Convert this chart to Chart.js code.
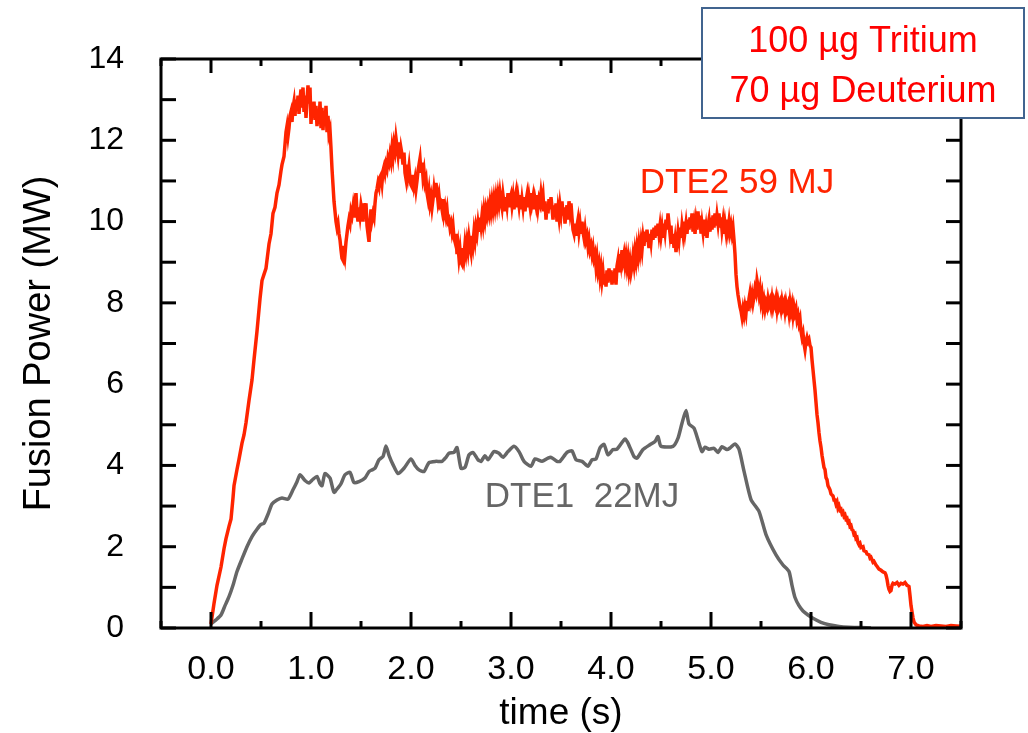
<!DOCTYPE html>
<html>
<head>
<meta charset="utf-8">
<script src="https://cdn.jsdelivr.net/npm/chart.js@4.4.1/dist/chart.umd.min.js"></script>
<style>
  html, body { margin: 0; padding: 0; background: #fff; }
  #wrap { width: 1028px; height: 733px; }
</style>
</head>
<body>
<div id="wrap"><canvas id="fusion-chart" width="1028" height="733"></canvas></div>
<script>
// ------------------------
// DATA
// ------------------------

// DTE2 (2021), 59 MJ
const dte2Time = [
  0.00,0.03,0.06,0.10,0.13,0.15,0.18,0.20,0.22,0.23,0.26,0.28,0.31,0.33,0.35,0.38,0.41,0.43,0.46,0.49,
  0.51,0.53,0.55,0.58,0.60,0.62,0.64,0.66,0.68,0.70,0.71,0.73,0.75,0.76,0.77,0.78,0.79,0.80,0.81,0.82,
  0.83,0.84,0.85,0.86,0.87,0.88,0.89,0.90,0.91,0.92,0.93,0.94,0.95,0.96,0.97,0.98,0.99,1.00,1.01,1.02,
  1.03,1.04,1.05,1.06,1.07,1.08,1.09,1.10,1.11,1.12,1.13,1.14,1.15,1.16,1.17,1.18,1.19,1.20,1.21,1.22,
  1.23,1.24,1.25,1.26,1.27,1.28,1.29,1.30,1.31,1.32,1.33,1.34,1.35,1.36,1.37,1.38,1.39,1.40,1.41,1.42,
  1.43,1.44,1.45,1.46,1.47,1.48,1.49,1.50,1.51,1.52,1.53,1.54,1.55,1.56,1.57,1.58,1.59,1.60,1.61,1.62,
  1.63,1.64,1.65,1.66,1.67,1.68,1.69,1.70,1.71,1.72,1.73,1.74,1.75,1.76,1.77,1.78,1.79,1.80,1.81,1.82,
  1.83,1.84,1.85,1.86,1.87,1.88,1.89,1.90,1.91,1.92,1.93,1.94,1.95,1.96,1.97,1.98,1.99,2.00,2.01,2.02,
  2.03,2.04,2.05,2.06,2.07,2.08,2.09,2.10,2.11,2.12,2.13,2.14,2.15,2.16,2.17,2.18,2.19,2.20,2.21,2.22,
  2.23,2.24,2.25,2.26,2.27,2.28,2.29,2.30,2.31,2.32,2.33,2.34,2.35,2.36,2.37,2.38,2.39,2.40,2.41,2.42,
  2.43,2.44,2.45,2.46,2.47,2.48,2.49,2.50,2.51,2.52,2.53,2.54,2.55,2.56,2.57,2.58,2.59,2.60,2.61,2.62,
  2.63,2.64,2.65,2.66,2.67,2.68,2.69,2.70,2.71,2.72,2.73,2.74,2.75,2.76,2.77,2.78,2.79,2.80,2.81,2.82,
  2.83,2.84,2.85,2.86,2.87,2.88,2.89,2.90,2.91,2.92,2.93,2.94,2.95,2.96,2.97,2.98,2.99,3.00,3.01,3.02,
  3.03,3.04,3.05,3.06,3.07,3.08,3.09,3.10,3.11,3.12,3.13,3.14,3.15,3.16,3.17,3.18,3.19,3.20,3.21,3.22,
  3.23,3.24,3.25,3.26,3.27,3.28,3.29,3.30,3.31,3.32,3.33,3.34,3.35,3.36,3.37,3.38,3.39,3.40,3.41,3.42,
  3.43,3.44,3.45,3.46,3.47,3.48,3.49,3.50,3.51,3.52,3.53,3.54,3.55,3.56,3.57,3.58,3.59,3.60,3.61,3.62,
  3.63,3.64,3.65,3.66,3.67,3.68,3.69,3.70,3.71,3.72,3.73,3.74,3.75,3.76,3.77,3.78,3.79,3.80,3.81,3.82,
  3.83,3.84,3.85,3.86,3.87,3.88,3.89,3.90,3.91,3.92,3.93,3.94,3.95,3.96,3.97,3.98,3.99,4.00,4.01,4.02,
  4.03,4.04,4.05,4.06,4.07,4.08,4.09,4.10,4.11,4.12,4.13,4.14,4.15,4.16,4.17,4.18,4.19,4.20,4.21,4.22,
  4.23,4.24,4.25,4.26,4.27,4.28,4.29,4.30,4.31,4.32,4.33,4.34,4.35,4.36,4.37,4.38,4.39,4.40,4.41,4.42,
  4.43,4.44,4.45,4.46,4.47,4.48,4.49,4.50,4.51,4.52,4.53,4.54,4.55,4.56,4.57,4.58,4.59,4.60,4.61,4.62,
  4.63,4.64,4.65,4.66,4.67,4.68,4.69,4.70,4.71,4.72,4.73,4.74,4.75,4.76,4.77,4.78,4.79,4.80,4.81,4.82,
  4.83,4.84,4.85,4.86,4.87,4.88,4.89,4.90,4.91,4.92,4.93,4.94,4.95,4.96,4.97,4.98,4.99,5.00,5.01,5.02,
  5.03,5.04,5.05,5.06,5.07,5.08,5.09,5.10,5.11,5.12,5.13,5.14,5.15,5.16,5.17,5.18,5.19,5.20,5.21,5.22,
  5.23,5.24,5.25,5.26,5.27,5.28,5.29,5.30,5.31,5.32,5.33,5.34,5.35,5.36,5.37,5.38,5.39,5.40,5.41,5.42,
  5.43,5.44,5.45,5.46,5.47,5.48,5.49,5.50,5.51,5.52,5.53,5.54,5.55,5.56,5.57,5.58,5.59,5.60,5.61,5.62,
  5.63,5.64,5.65,5.66,5.67,5.68,5.69,5.70,5.71,5.72,5.73,5.74,5.75,5.76,5.77,5.78,5.79,5.80,5.81,5.82,
  5.83,5.84,5.85,5.86,5.87,5.88,5.89,5.90,5.91,5.92,5.93,5.94,5.95,5.96,5.97,5.98,5.99,6.00,6.01,6.02,
  6.03,6.04,6.05,6.06,6.07,6.08,6.09,6.10,6.11,6.12,6.13,6.14,6.15,6.16,6.17,6.18,6.19,6.20,6.22,6.23,
  6.24,6.25,6.26,6.27,6.28,6.29,6.30,6.31,6.32,6.33,6.34,6.35,6.36,6.37,6.38,6.39,6.40,6.41,6.42,6.43,
  6.44,6.45,6.46,6.47,6.48,6.49,6.50,6.52,6.53,6.55,6.56,6.58,6.59,6.60,6.62,6.63,6.65,6.66,6.67,6.68,
  6.70,6.72,6.74,6.75,6.76,6.77,6.78,6.79,6.80,6.81,6.82,6.84,6.86,6.88,6.90,6.92,6.94,6.96,6.98,6.99,
  7.00,7.01,7.02,7.03,7.05,7.08,7.12,7.16,7.20,7.25,7.30,7.35,7.40,7.45,7.50
];
const dte2Power = [
  0.10,0.60,1.05,1.50,1.95,2.20,2.50,2.68,3.20,3.50,3.90,4.15,4.55,4.75,5.05,5.60,6.10,6.60,7.30,8.10,
  8.55,8.70,8.85,9.45,9.70,10.20,10.35,10.70,10.90,11.25,11.40,11.60,12.20,12.35,12.10,12.30,12.60,12.70,12.45,12.80,
  12.95,12.60,13.00,12.75,13.10,12.65,13.00,13.25,12.80,13.30,12.70,13.10,12.55,13.00,13.35,12.90,13.30,12.40,12.85,12.60,
  12.95,12.50,12.85,12.35,12.70,12.40,12.95,12.30,12.80,12.25,12.70,12.40,12.85,12.20,12.60,12.15,12.25,11.80,11.30,10.90,
  10.50,10.25,10.00,9.85,9.95,9.70,9.55,9.30,9.10,9.05,9.40,9.20,9.50,9.70,9.90,10.05,9.95,10.25,10.15,10.35,
  10.10,10.50,10.70,10.20,10.00,10.35,10.15,10.40,10.25,10.00,10.45,10.20,10.45,9.90,9.70,9.50,10.00,10.30,10.05,10.20,
  10.10,10.45,10.70,10.80,10.95,10.85,11.10,11.15,10.95,11.25,11.35,11.20,11.40,11.30,11.55,11.45,11.65,11.50,11.80,11.60,
  11.90,11.75,12.05,11.85,11.65,11.95,11.55,11.80,11.65,11.40,11.70,11.20,11.05,11.40,11.15,11.35,11.05,10.90,10.85,11.15,
  10.90,11.05,10.80,11.00,11.25,11.40,11.55,11.20,11.45,11.10,11.25,10.95,11.05,10.70,10.55,10.75,10.45,10.60,10.35,10.55,
  10.80,10.60,10.95,10.75,10.50,10.65,10.40,10.45,10.30,10.55,10.20,10.35,10.15,10.30,10.00,10.05,9.85,9.95,9.75,9.90,
  9.60,9.50,9.70,9.20,9.40,9.10,9.30,9.00,8.95,9.35,9.15,9.45,9.25,9.50,9.30,9.60,9.40,9.25,9.65,9.45,
  9.75,9.55,9.85,9.70,9.95,9.75,10.10,9.90,10.15,9.95,10.25,10.05,10.30,10.15,10.35,10.20,10.45,10.25,10.50,10.30,
  10.55,10.35,10.60,10.40,10.65,10.45,10.70,10.50,10.35,10.65,10.45,10.25,10.60,10.40,10.70,10.35,10.55,10.65,10.40,10.60,
  10.30,10.55,10.70,10.35,10.60,10.40,10.65,10.30,10.55,10.35,10.60,10.25,10.50,10.65,10.35,10.60,10.40,10.70,10.45,10.60,
  10.30,10.55,10.40,10.65,10.35,10.55,10.45,10.70,10.50,10.65,10.25,10.50,10.05,10.40,10.20,10.55,10.30,10.60,10.35,10.05,
  10.40,10.15,10.45,10.00,10.30,10.10,10.40,10.20,10.50,10.15,10.35,9.95,10.20,10.40,10.05,10.50,10.25,10.45,10.10,9.80,
  9.70,9.95,9.65,9.90,10.05,9.75,9.95,9.70,10.00,9.75,9.60,9.80,9.55,9.65,9.40,9.55,9.30,9.40,9.20,9.35,
  9.10,9.20,8.90,9.10,8.80,8.95,8.65,8.85,8.55,8.75,8.45,8.70,8.40,8.80,8.50,8.85,8.55,8.80,8.45,8.75,
  8.50,8.85,8.45,8.90,9.05,8.75,9.20,9.00,9.30,9.05,9.20,8.95,9.15,8.90,9.10,8.80,9.00,8.75,8.90,9.15,
  8.95,9.25,9.05,9.35,9.15,9.45,9.25,9.50,9.30,9.60,9.40,9.75,9.50,9.80,9.55,9.35,9.70,9.50,9.80,9.55,
  9.85,9.60,9.90,9.65,9.95,9.70,9.90,9.65,9.85,9.60,9.95,9.75,10.05,9.80,10.20,9.95,9.70,9.90,9.45,9.70,
  9.35,9.55,9.25,9.50,9.75,9.55,9.85,9.60,9.90,9.70,10.00,9.75,9.95,9.70,10.05,9.80,10.10,9.85,10.20,9.75,
  9.95,9.70,10.00,9.80,10.25,9.90,10.15,9.70,9.95,9.75,10.05,9.65,9.85,9.60,9.90,10.05,9.75,10.10,9.80,10.15,
  9.85,10.20,9.90,10.15,9.95,10.20,9.85,10.10,9.80,10.00,9.70,9.95,9.75,10.05,9.80,10.00,9.75,9.90,9.70,9.85,
  9.55,9.20,8.70,8.40,8.20,8.05,7.90,7.80,7.65,7.85,7.70,7.90,7.75,8.05,7.80,8.10,8.25,8.05,8.20,8.00,
  8.15,8.35,8.25,8.55,8.40,8.20,8.35,8.05,8.20,7.90,8.05,7.85,8.00,7.90,8.10,7.95,8.05,7.90,8.10,7.90,
  8.05,7.95,8.10,7.85,8.05,7.90,8.00,7.85,8.05,7.90,8.00,7.80,8.00,7.85,7.95,7.75,8.00,7.80,7.95,7.70,
  7.90,7.75,7.85,7.60,7.70,7.50,7.60,7.30,7.15,7.25,7.00,6.85,7.05,7.15,7.05,7.10,6.95,6.90,6.60,6.35,
  6.10,5.85,5.55,5.25,5.05,4.80,4.60,4.45,4.25,4.10,3.95,3.90,3.70,3.65,3.50,3.45,3.40,3.30,3.25,3.15,
  3.15,3.05,3.10,2.95,3.00,2.90,2.92,2.82,2.85,2.75,2.78,2.68,2.70,2.60,2.62,2.50,2.52,2.42,2.40,2.30,
  2.32,2.20,2.22,2.10,2.05,2.08,1.98,2.00,1.90,1.88,1.82,1.80,1.72,1.74,1.62,1.64,1.55,1.52,1.48,1.45,
  1.42,1.38,1.36,1.30,1.20,1.05,0.95,0.90,0.92,1.05,1.10,1.08,1.12,1.05,1.10,1.08,1.12,1.05,1.02,0.80,
  0.55,0.40,0.25,0.15,0.08,0.05,0.04,0.06,0.04,0.06,0.05,0.04,0.06,0.05,0.04
];

// DTE1 (1997), 22 MJ
const dte1Time = [
  0.00,0.05,0.10,0.14,0.18,0.22,0.26,0.31,0.36,0.41,0.46,0.50,0.53,0.57,0.61,0.66,0.71,0.77,0.82,0.86,
  0.89,0.94,0.98,1.02,1.06,1.09,1.11,1.14,1.19,1.23,1.27,1.30,1.34,1.39,1.43,1.48,1.54,1.58,1.61,1.64,
  1.68,1.72,1.75,1.78,1.82,1.87,1.93,2.00,2.04,2.08,2.13,2.18,2.25,2.31,2.35,2.38,2.43,2.46,2.50,2.54,
  2.58,2.62,2.67,2.70,2.74,2.77,2.83,2.88,2.92,2.97,3.03,3.08,3.13,3.20,3.24,3.31,3.37,3.40,3.46,3.49,
  3.56,3.61,3.65,3.71,3.77,3.81,3.85,3.89,3.93,3.97,4.02,4.06,4.14,4.17,4.23,4.26,4.32,4.39,4.44,4.47,
  4.50,4.62,4.67,4.71,4.75,4.78,4.83,4.87,4.91,4.94,4.98,5.03,5.07,5.11,5.16,5.19,5.24,5.28,5.33,5.40,
  5.48,5.55,5.65,5.72,5.78,5.81,5.84,5.88,5.92,5.97,6.02,6.10,6.18,6.28,6.38,6.50,6.60
];
const dte1Power = [
  0.10,0.20,0.32,0.55,0.77,1.05,1.39,1.70,2.00,2.25,2.43,2.55,2.58,2.80,3.05,3.15,3.20,3.17,3.40,3.60,
  3.77,3.63,3.57,3.66,3.73,3.55,3.50,3.80,3.69,3.34,3.45,3.55,3.77,3.83,3.58,3.60,3.69,3.85,3.89,3.93,
  4.14,4.22,4.48,4.25,4.02,3.80,3.93,4.16,4.00,3.89,3.85,4.07,4.10,4.10,4.20,4.30,4.32,4.44,3.93,3.95,
  4.26,4.32,4.14,4.10,4.24,4.14,4.34,4.30,4.20,4.34,4.47,4.34,4.10,3.98,4.16,4.10,4.18,4.20,4.10,4.10,
  4.32,4.36,4.14,4.10,3.98,4.14,4.16,4.43,4.52,4.26,4.39,4.40,4.65,4.55,4.22,4.18,4.39,4.51,4.59,4.71,
  4.47,4.47,4.67,5.04,5.35,5.02,4.92,4.63,4.34,4.45,4.40,4.42,4.32,4.46,4.39,4.43,4.53,4.40,3.86,3.16,
  2.87,2.30,1.80,1.55,1.39,1.05,0.75,0.55,0.42,0.32,0.24,0.14,0.08,0.04,0.02,0.01,0.00
];

// axes
const xRange = [-0.5, 7.5];
const yRange = [0, 14];
const xMajorTicks = [0, 1, 2, 3, 4, 5, 6, 7];
const xMinorTicks = [-0.5, 0.5, 1.5, 2.5, 3.5, 4.5, 5.5, 6.5, 7.5];
const yMajorTicks = [0, 2, 4, 6, 8, 10, 12, 14];
const yAllTicks = [0, 1, 2, 3, 4, 5, 6, 7, 8, 9, 10, 11, 12, 13, 14];

// in-plot labels
const dte2Label = { text: "DTE2 59 MJ", x: 5.26, y: 10.95 };
const dte1Label = { text: "DTE1  22MJ", x: 3.71, y: 3.22 };
const boxLines = ["100 \u00B5g Tritium", "70 \u00B5g Deuterium"];

const FONT = '"Liberation Sans", Arial, Helvetica, sans-serif';
const RED = "#ff2400";
const GREY = "#666666";

// ------------------------
// FRAME + INWARD TICKS + LABELS
// ------------------------

const framePlugin = {
    id: "frame",
    afterDraw(chart) {
        const ctx = chart.ctx;
        const xs = chart.scales.x;
        const ys = chart.scales.y;
        const { left, right, top, bottom } = chart.chartArea;

        ctx.save();
        ctx.strokeStyle = "#000";
        ctx.lineWidth = 3;
        ctx.lineCap = "butt";
        ctx.strokeRect(left, top, right - left, bottom - top);

        const line = (x1, y1, x2, y2) => {
            ctx.beginPath();
            ctx.moveTo(x1, y1);
            ctx.lineTo(x2, y2);
            ctx.stroke();
        };

        xMajorTicks.forEach(v => {
            const px = xs.getPixelForValue(v);
            line(px, bottom, px, bottom - 16);
            line(px, top, px, top + 14);
        });
        xMinorTicks.forEach(v => {
            const px = xs.getPixelForValue(v);
            line(px, bottom, px, bottom - 7);
            line(px, top, px, top + 7);
        });
        yAllTicks.forEach(v => {
            const py = ys.getPixelForValue(v);
            line(left, py, left + 15, py);
            line(right, py, right - 15, py);
        });

        // curve labels
        ctx.textAlign = "center";
        ctx.textBaseline = "middle";
        ctx.font = `35px ${FONT}`;
        ctx.fillStyle = RED;
        ctx.fillText(dte2Label.text, xs.getPixelForValue(dte2Label.x), ys.getPixelForValue(dte2Label.y));
        ctx.fillStyle = GREY;
        ctx.fillText(dte1Label.text, xs.getPixelForValue(dte1Label.x), ys.getPixelForValue(dte1Label.y));

        // note box, top right
        ctx.fillStyle = "#fff";
        ctx.fillRect(702, 8, 322, 110);
        ctx.strokeStyle = "#41648f";
        ctx.lineWidth = 2;
        ctx.strokeRect(702, 8, 322, 110);
        ctx.fillStyle = "#ff0000";
        ctx.font = `36px ${FONT}`;
        ctx.fillText(boxLines[0], 863, 42);
        ctx.fillText(boxLines[1], 863, 92);

        ctx.restore();
    }
};

// ------------------------
// CHART
// ------------------------

const toPoints = (ts, vs) => ts.map((t, i) => ({ x: t, y: vs[i] }));

new Chart(document.getElementById("fusion-chart"), {
    type: "line",
    data: {
        datasets: [
            {
                label: "DTE2",
                data: toPoints(dte2Time, dte2Power),
                borderColor: RED,
                borderWidth: 3.5,
                pointRadius: 0,
                tension: 0,
                order: 0
            },
            {
                label: "DTE1",
                data: toPoints(dte1Time, dte1Power),
                borderColor: GREY,
                borderWidth: 3.5,
                pointRadius: 0,
                tension: 0.2,
                order: 1
            }
        ]
    },
    options: {
        responsive: false,
        animation: false,
        layout: { padding: { top: 59, right: 67, left: 0, bottom: 0 } },
        plugins: { legend: { display: false }, tooltip: { enabled: false } },
        scales: {
            x: {
                type: "linear",
                min: xRange[0],
                max: xRange[1],
                grid: { display: false },
                border: { display: false },
                afterBuildTicks: s => { s.ticks = xMajorTicks.map(v => ({ value: v })); },
                afterFit: s => { s.height = 105; },
                ticks: {
                    color: "#000",
                    font: { family: FONT, size: 34 },
                    padding: 13,
                    maxRotation: 0,
                    callback: v => v.toFixed(1)
                },
                title: {
                    display: true,
                    text: "time (s)",
                    color: "#000",
                    font: { family: FONT, size: 37, lineHeight: 1.05 },
                    padding: { top: 0, bottom: 0 }
                }
            },
            y: {
                min: yRange[0],
                max: yRange[1],
                grid: { display: false },
                border: { display: false },
                afterBuildTicks: s => { s.ticks = yMajorTicks.map(v => ({ value: v })); },
                afterFit: s => { s.width = 161; },
                ticks: {
                    color: "#000",
                    font: { family: FONT, size: 32 },
                    padding: 29
                },
                title: {
                    display: true,
                    text: "Fusion Power (MW)",
                    color: "#000",
                    font: { family: FONT, size: 38 },
                    padding: { top: 17, bottom: 0 }
                }
            }
        }
    },
    plugins: [framePlugin]
});
</script>
</body>
</html>
